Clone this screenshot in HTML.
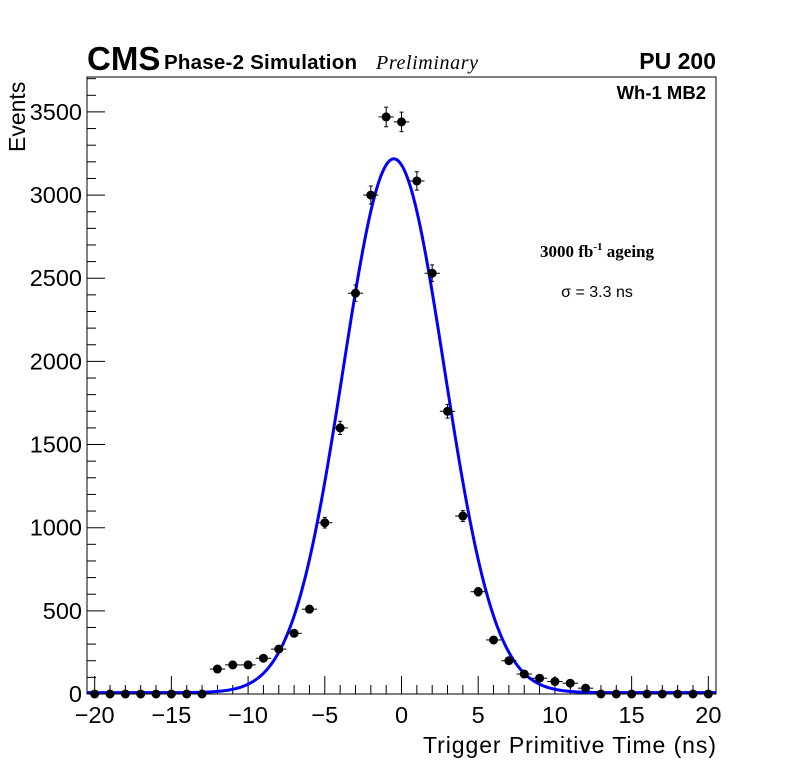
<!DOCTYPE html>
<html><head><meta charset="utf-8"><style>
html,body{margin:0;padding:0;background:#fff}
svg{display:block;font-family:"Liberation Sans",sans-serif}
</style></head><body>
<svg id="chart" width="796" height="772" viewBox="0 0 796 772">
<text x="87" y="70" font-size="33" font-weight="bold">CMS</text>
<text x="164" y="69" font-size="20.5" font-weight="bold" textLength="193">Phase-2 Simulation</text>
<text x="376" y="69" font-size="20" font-style="italic" font-family="Liberation Serif,serif" textLength="102">Preliminary</text>
<text x="716" y="69" font-size="23" font-weight="bold" text-anchor="end">PU 200</text>
<text x="706" y="99" font-size="18.5" font-weight="bold" text-anchor="end">Wh-1 MB2</text>
<text x="597" y="257" font-size="17" font-weight="bold" text-anchor="middle" font-family="Liberation Serif,serif">3000 fb<tspan dy="-7" font-size="11">-1</tspan><tspan dy="7"> ageing</tspan></text>
<text x="597" y="297" font-size="16" text-anchor="middle">σ = 3.3 ns</text>
<text x="716" y="753" font-size="23" text-anchor="end" textLength="293">Trigger Primitive Time (ns)</text>
<text transform="translate(25,152) rotate(-90)" font-size="23">Events</text>
<g id="g"></g>
</svg>
<script>
const xCenters=[-20,-19,-18,-17,-16,-15,-14,-13,-12,-11,-10,-9,-8,-7,-6,-5,-4,-3,-2,-1,0,1,2,3,4,5,6,7,8,9,10,11,12,13,14,15,16,17,18,19,20];
const counts=[0,0,0,0,0,0,0,0,150,175,175,215,270,365,510,1030,1600,2410,3000,3470,3440,3085,2530,1700,1070,615,325,200,120,95,75,65,35,0,0,0,0,0,0,0,0];
const fitParams=[3210,-0.5,3.3,8]; // amplitude, mean, sigma, constant
const xTicks=[-20,-15,-10,-5,0,5,10,15,20];
const yTicks=[0,500,1000,1500,2000,2500,3000,3500];
const L=87,R=716,T=77,B=694,xmin=-20.5,xmax=20.5,ymax=3710;
const sx=v=>L+(v-xmin)/(xmax-xmin)*(R-L);
const sy=v=>B-v/ymax*(B-T);
const g=document.getElementById('g');const NS='http://www.w3.org/2000/svg';
function mk(t,a){const e=document.createElementNS(NS,t);for(const k in a)e.setAttribute(k,a[k]);g.appendChild(e);return e;}
let fr=mk('rect',{x:L,y:T,width:R-L,height:B-T,fill:'none',stroke:'#000','stroke-width':1});


for(let v=-20;v<=20;v++){const maj=v%5===0;let t=mk('line',{x1:sx(v),x2:sx(v),y1:B,y2:B-(maj?18:9),stroke:'#000'});

}
xTicks.forEach(v=>{let t=mk('text',{x:sx(v),y:723,'font-size':23.5,'text-anchor':'middle'});t.textContent=(v<0?'\u2212'+(-v):v);

});
for(let v=0;v<=3700;v+=100){const maj=v%500===0;let t=mk('line',{x1:L,x2:L+(maj?18:9),y1:sy(v),y2:sy(v),stroke:'#000'});

}
yTicks.forEach(v=>{let t=mk('text',{x:82,y:sy(v)+8,'font-size':23.5,'text-anchor':'end'});t.textContent=v;

});
let d='';for(let i=0;i<=400;i++){const x=xmin+i*(xmax-xmin)/400;const y=fitParams[0]*Math.exp(-0.5*((x-fitParams[1])/fitParams[2])**2)+fitParams[3];d+=(i?'L':'M')+sx(x).toFixed(2)+','+sy(y).toFixed(2);}
let c=mk('path',{d:d,fill:'none',stroke:'#0000ff','stroke-width':3});


xCenters.forEach((x,i)=>{const y=counts[i];const e=Math.sqrt(y);const px=sx(x),py=sy(y);
let h=mk('line',{x1:sx(x-0.5),x2:sx(x+0.5),y1:py,y2:py,stroke:'#000'});


if(e>0){let v=mk('path',{d:`M${px},${sy(y+e)}V${sy(y-e)}M${px-2},${sy(y+e)}H${px+2}M${px-2},${sy(y-e)}H${px+2}`,stroke:'#000',fill:'none'});

}
let p=mk('circle',{cx:px,cy:py,r:4.5,fill:'#000'});

});
</script>
</body></html>
